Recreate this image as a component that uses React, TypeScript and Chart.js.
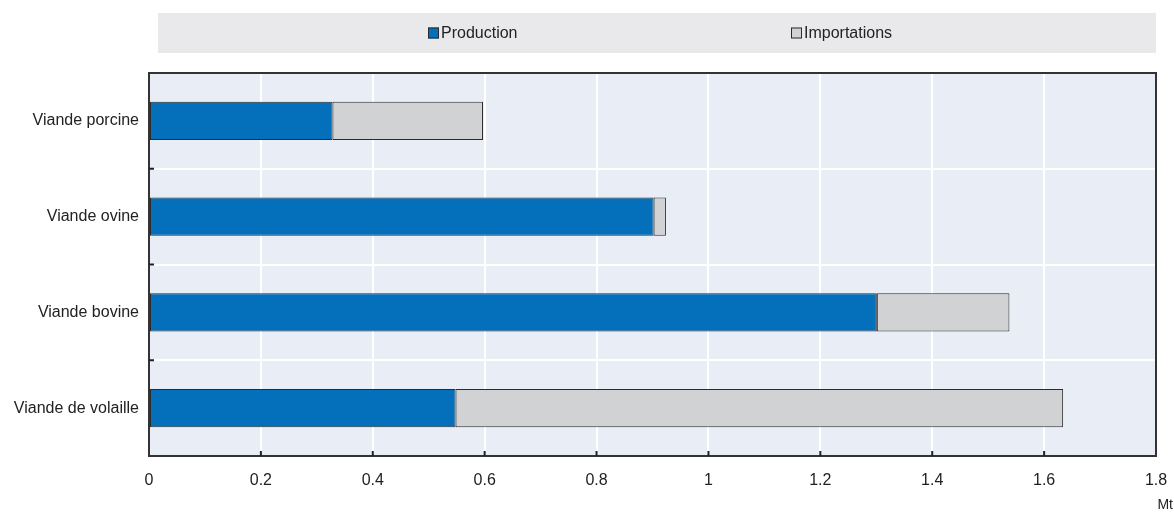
import React, { useEffect, useRef } from "react";
import { Chart, registerables } from "chart.js";

Chart.register(...registerables);

const categories = ["Viande porcine", "Viande ovine", "Viande bovine", "Viande de volaille"];
const seriesNames = ["Production", "Importations"];
const production = [0.328, 0.902, 1.301, 0.548];
const importations = [0.269, 0.022, 0.237, 1.086];
const xTickLabels = ["0", "0.2", "0.4", "0.6", "0.8", "1", "1.2", "1.4", "1.6", "1.8"];
const unitLabel = "Mt";

const FONT = "'Liberation Sans', Arial, sans-serif";
const BLUE = "#046fba";
const GREY = "#d1d2d4";
const EDGE = "#2b2b2b";

const decorPlugin = {
  id: "decor",
  beforeDraw(chart: any) {
    const { ctx, chartArea } = chart;
    ctx.save();
    ctx.fillStyle = "#e8edf6";
    ctx.fillRect(chartArea.left, chartArea.top, chartArea.right - chartArea.left, chartArea.bottom - chartArea.top);
    ctx.restore();
  },
  afterDraw(chart: any) {
    const { ctx, chartArea } = chart;
    const xs = chart.scales.x;
    const ys = chart.scales.y;
    ctx.save();
    ctx.strokeStyle = "#333";
    ctx.lineWidth = 2;
    ctx.strokeRect(chartArea.left, chartArea.top, chartArea.right - chartArea.left, chartArea.bottom - chartArea.top);
    ctx.strokeStyle = "#222";
    for (let i = 0; i < categories.length - 1; i++) {
      const y = (ys.getPixelForValue(i) + ys.getPixelForValue(i + 1)) / 2;
      ctx.beginPath();
      ctx.moveTo(chartArea.left, y);
      ctx.lineTo(chartArea.left + 5, y);
      ctx.stroke();
    }
    xs.ticks.forEach((t: any, i: number) => {
      if (i === 0 || i === xs.ticks.length - 1) return;
      const x = xs.getPixelForValue(t.value);
      ctx.beginPath();
      ctx.moveTo(x, chartArea.bottom);
      ctx.lineTo(x, chartArea.bottom - 5);
      ctx.stroke();
    });
    ctx.fillStyle = "#e9e9eb";
    ctx.fillRect(158, 13, chartArea.right - 158, 40);
    const items = chart.data.datasets.map((d: any) => ({ label: d.label, color: d.backgroundColor }));
    const xsLeg = [428, 791];
    ctx.font = `16px ${FONT}`;
    ctx.textBaseline = "middle";
    ctx.textAlign = "left";
    items.forEach((it: any, i: number) => {
      const bx = xsLeg[i];
      ctx.fillStyle = it.color;
      ctx.fillRect(bx, 27.5, 11, 11);
      ctx.strokeStyle = EDGE;
      ctx.lineWidth = 1;
      ctx.strokeRect(bx + 0.5, 28, 10, 10);
      ctx.fillStyle = "#222";
      ctx.fillText(it.label, bx + 13, 33.5);
    });
    ctx.font = `14px ${FONT}`;
    ctx.textAlign = "right";
    ctx.fillStyle = "#222";
    ctx.fillText(unitLabel, 1173, 505);
    ctx.restore();
  },
};

export default function App() {
  const ref = useRef<HTMLCanvasElement | null>(null);
  useEffect(() => {
    document.body.style.margin = "0";
    const canvas = ref.current!;
    const chart = new Chart(canvas, {
      type: "bar",
      data: {
        labels: categories,
        datasets: [
          {
            label: seriesNames[0],
            data: production,
            backgroundColor: BLUE,
            borderColor: EDGE,
            borderWidth: 1,
            borderSkipped: false,
            barPercentage: 0.4,
            categoryPercentage: 1,
          },
          {
            label: seriesNames[1],
            data: importations,
            backgroundColor: GREY,
            borderColor: EDGE,
            borderWidth: 1,
            borderSkipped: false,
            barPercentage: 0.4,
            categoryPercentage: 1,
          },
        ],
      },
      options: {
        indexAxis: "y",
        responsive: false,
        animation: false,
        layout: { padding: { top: 73, right: 18, bottom: 0, left: 0 } },
        plugins: { legend: { display: false }, tooltip: { enabled: false } },
        scales: {
          x: {
            type: "linear",
            stacked: true,
            min: 0,
            max: 1.8,
            ticks: {
              stepSize: 0.2,
              color: "#222",
              font: { family: FONT, size: 16 },
              padding: 15,
              callback: (_v: any, i: number) => xTickLabels[i],
            },
            grid: { color: "#ffffff", lineWidth: 2, drawTicks: false },
            border: { display: false },
            afterFit: (s: any) => {
              s.height = 57;
              s.paddingLeft = 0;
              s.paddingRight = 0;
            },
          },
          y: {
            type: "category",
            stacked: true,
            ticks: { color: "#222", font: { family: FONT, size: 16 }, padding: 10 },
            grid: { color: "#ffffff", lineWidth: 2, offset: true, drawTicks: false },
            border: { display: false },
            afterFit: (s: any) => {
              s.width = 149;
              s.paddingTop = 0;
              s.paddingBottom = 0;
            },
          },
        },
      },
      plugins: [decorPlugin],
    } as any);
    return () => chart.destroy();
  }, []);
  return (
    <div style={{ position: "fixed", left: 0, top: 0, width: 1174, height: 513 }}>
      <canvas ref={ref} width={1174} height={513} style={{ width: 1174, height: 513 }} />
    </div>
  );
}
